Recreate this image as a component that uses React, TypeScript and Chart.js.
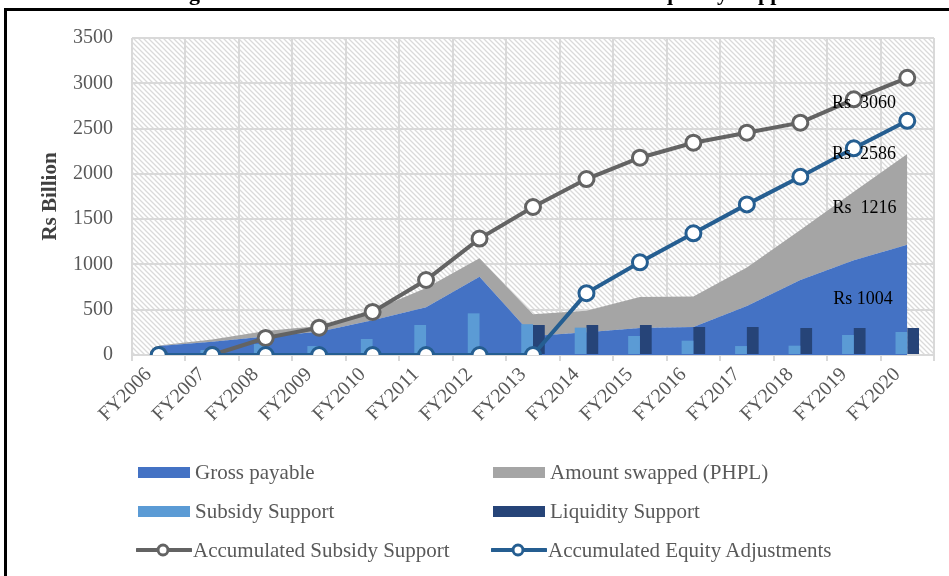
import React, { useEffect, useRef } from "react";
import { Chart, registerables } from "chart.js";
Chart.register(...registerables);

const categories = ["FY2006", "FY2007", "FY2008", "FY2009", "FY2010", "FY2011", "FY2012", "FY2013", "FY2014", "FY2015", "FY2016", "FY2017", "FY2018", "FY2019", "FY2020"];
const grossPayable = [100, 147, 205, 257, 385, 526, 864, 210, 250, 298, 310, 540, 828, 1045, 1216];
const amountSwapped = [5, 25, 60, 63, 105, 214, 203, 239, 239, 342, 335, 425, 552, 758, 1004];
const subsidySupport = [0, 55, 121, 99, 177, 331, 460, 340, 302, 210, 158, 99, 103, 221, 254];
const liquiditySupport = [0, 0, 0, 0, 0, 0, 0, 331, 331, 331, 309, 309, 298, 298, 298];
const accumulatedSubsidy = [0, 0, 188, 302, 475, 828, 1285, 1634, 1943, 2178, 2344, 2454, 2565, 2823, 3060];
const accumulatedEquity = [0, 0, 0, 0, 0, 0, 0, 0, 683, 1023, 1343, 1663, 1968, 2282, 2586];
const yMin = 0;
const yMax = 3500;
const yStep = 500;
const noteTexts = ["Rs  3060", "Rs  2586", "Rs  1216", "Rs 1004"];
const noteCategory = [13.19, 13.19, 13.2, 13.17];
const noteValue = [2782, 2219, 1623, 618];

const COLORS = {
  gross: "#4472C4",
  swapped: "#A5A5A5",
  subsidy: "#5B9BD5",
  liquidity: "#264478",
  accSub: "#636363",
  accEq: "#255E91",
  text: "#595959",
  grid: "#d9d9d9",
};

const SERIF = "'Liberation Serif', 'Times New Roman', serif";

const hatchPlugin = {
  id: "hatch",
  beforeDraw(chart: any) {
    const { ctx, chartArea: a } = chart;
    const tile = document.createElement("canvas");
    tile.width = 5;
    tile.height = 5;
    const t = tile.getContext("2d")!;
    t.fillStyle = "#ffffff";
    t.fillRect(0, 0, 5, 5);
    t.strokeStyle = "#dadada";
    t.lineWidth = 1.3;
    t.beginPath();
    t.moveTo(-1, -1);
    t.lineTo(6, 6);
    t.moveTo(-1, 4);
    t.lineTo(1, 6);
    t.moveTo(4, -1);
    t.lineTo(6, 1);
    t.stroke();
    const pat = ctx.createPattern(tile, "repeat");
    ctx.save();
    ctx.fillStyle = "#ffffff";
    ctx.fillRect(0, 0, chart.width, chart.height);
    ctx.fillStyle = pat;
    ctx.fillRect(a.left, a.top, a.right - a.left, a.bottom - a.top);
    ctx.restore();
  },
};

const notePlugin = {
  id: "notes",
  afterDatasetsDraw(chart: any) {
    const { ctx } = chart;
    const xs = chart.scales.x;
    const ys = chart.scales.y;
    ctx.save();
    ctx.font = `18px ${SERIF}`;
    ctx.fillStyle = "#000000";
    ctx.textAlign = "center";
    ctx.textBaseline = "middle";
    noteTexts.forEach((txt, i) => {
      ctx.fillText(txt, xs.getPixelForValue(noteCategory[i]), ys.getPixelForValue(noteValue[i]));
    });
    ctx.restore();
  },
};

function LegendItem({ x, y, color, label, kind }: { x: number; y: number; color: string; label: string; kind: "box" | "line" }) {
  return (
    <div style={{ position: "absolute", left: x, top: y - 14, height: 28, display: "flex", alignItems: "center", whiteSpace: "nowrap" }}>
      {kind === "box" ? (
        <div style={{ width: 52, height: 11, background: color, marginRight: 5 }} />
      ) : (
        <svg width={56} height={16} style={{ marginRight: 1 }}>
          <line x1={1} y1={8} x2={55} y2={8} stroke={color} strokeWidth={4} strokeLinecap="round" />
          <circle cx={27} cy={8} r={5} fill="#ffffff" stroke={color} strokeWidth={3} />
        </svg>
      )}
      <span style={{ fontFamily: SERIF, fontSize: 21, color: COLORS.text }}>{label}</span>
    </div>
  );
}

export default function App() {
  const ref = useRef<HTMLCanvasElement>(null);
  useEffect(() => {
    const canvas = ref.current!;
    const pointStyle = (c: string) => ({
      borderColor: c,
      backgroundColor: c,
      pointBackgroundColor: "#ffffff",
      pointBorderColor: c,
      pointBorderWidth: 3,
      pointRadius: 7.5,
      borderWidth: 4,
      tension: 0,
      fill: false,
    });
    const chart = new Chart(canvas, {
      type: "bar",
      data: {
        labels: categories,
        datasets: [
          {
            type: "line",
            label: "Gross payable",
            data: grossPayable,
            stack: "area",
            borderWidth: 0,
            pointRadius: 0,
            backgroundColor: COLORS.gross,
            borderColor: COLORS.gross,
            fill: "origin",
            tension: 0,
            order: 3,
          },
          {
            type: "line",
            label: "Amount swapped (PHPL)",
            data: amountSwapped,
            stack: "area",
            borderWidth: 0,
            pointRadius: 0,
            backgroundColor: COLORS.swapped,
            borderColor: COLORS.swapped,
            fill: "-1",
            tension: 0,
            order: 3,
          },
          {
            type: "bar",
            label: "Subsidy Support",
            data: subsidySupport,
            stack: "sub",
            backgroundColor: COLORS.subsidy,
            categoryPercentage: 0.44,
            barPercentage: 1,
            order: 2,
          },
          {
            type: "bar",
            label: "Liquidity Support",
            data: liquiditySupport,
            stack: "liq",
            backgroundColor: COLORS.liquidity,
            categoryPercentage: 0.44,
            barPercentage: 1,
            order: 2,
          },
          {
            type: "line",
            label: "Accumulated Subsidy Support",
            data: accumulatedSubsidy,
            stack: "acc1",
            order: 1,
            ...pointStyle(COLORS.accSub),
          },
          {
            type: "line",
            label: "Accumulated Equity Adjustments",
            data: accumulatedEquity,
            stack: "acc2",
            order: 0,
            ...pointStyle(COLORS.accEq),
          },
        ] as any,
      },
      options: {
        responsive: false,
        animation: false,
        devicePixelRatio: 1,
        layout: { padding: { top: 38, right: 15, bottom: 141, left: 0 } },
        plugins: {
          legend: { display: false },
          tooltip: { enabled: false },
          title: { display: false },
        },
        scales: {
          x: {
            stacked: false,
            offset: true,
            grid: { offset: true, color: COLORS.grid, lineWidth: 2, drawTicks: true, tickLength: 6 },
            border: { color: COLORS.grid, width: 2 },
            ticks: {
              color: COLORS.text,
              font: { family: SERIF, size: 20 },
              maxRotation: 45,
              minRotation: 45,
              autoSkip: false,
              padding: 2,
              labelOffset: -10,
            },
            afterFit(axis: any) {
              axis.height = 80;
            },
          },
          y: {
            stacked: true,
            min: yMin,
            max: yMax,
            grid: { color: COLORS.grid, lineWidth: 2, drawTicks: false },
            border: { display: false },
            ticks: {
              stepSize: yStep,
              color: COLORS.text,
              font: { family: SERIF, size: 20 },
              padding: 19,
              callback: (v: any) => String(v),
            },
            title: {
              display: true,
              text: "Rs Billion",
              color: "#404040",
              font: { family: SERIF, size: 21, weight: "bold" },
              padding: { top: 38, bottom: 0 },
            },
            afterFit(axis: any) {
              axis.width = 132;
            },
          },
        },
      },
      plugins: [hatchPlugin, notePlugin],
    });
    return () => chart.destroy();
  }, []);

  return (
    <div style={{ position: "fixed", left: 0, top: 0, width: 949, height: 576, overflow: "hidden", background: "#ffffff" }}>
      <canvas ref={ref} width={949} height={576} style={{ position: "absolute", left: 0, top: 0 }} />
      <div
        style={{
          position: "absolute",
          left: 0,
          width: 980,
          top: -19,
          textAlign: "center",
          fontFamily: SERIF,
          fontWeight: "bold",
          fontSize: 22,
          lineHeight: "24px",
          whiteSpace: "nowrap",
          color: "#000",
        }}
      >
        Figure 6: Circular Debt Growth and Government Liquidity Support
      </div>
      <div style={{ position: "absolute", left: 4, top: 8, width: 960, height: 600, borderLeft: "3px solid #000", borderTop: "3px solid #000", boxSizing: "border-box" }} />
      <LegendItem x={138} y={472} color={COLORS.gross} label="Gross payable" kind="box" />
      <LegendItem x={493} y={472} color={COLORS.swapped} label="Amount swapped (PHPL)" kind="box" />
      <LegendItem x={138} y={511} color={COLORS.subsidy} label="Subsidy Support" kind="box" />
      <LegendItem x={493} y={511} color={COLORS.liquidity} label="Liquidity Support" kind="box" />
      <LegendItem x={136} y={550} color={COLORS.accSub} label="Accumulated Subsidy Support" kind="line" />
      <LegendItem x={491} y={550} color={COLORS.accEq} label="Accumulated Equity Adjustments" kind="line" />
    </div>
  );
}
